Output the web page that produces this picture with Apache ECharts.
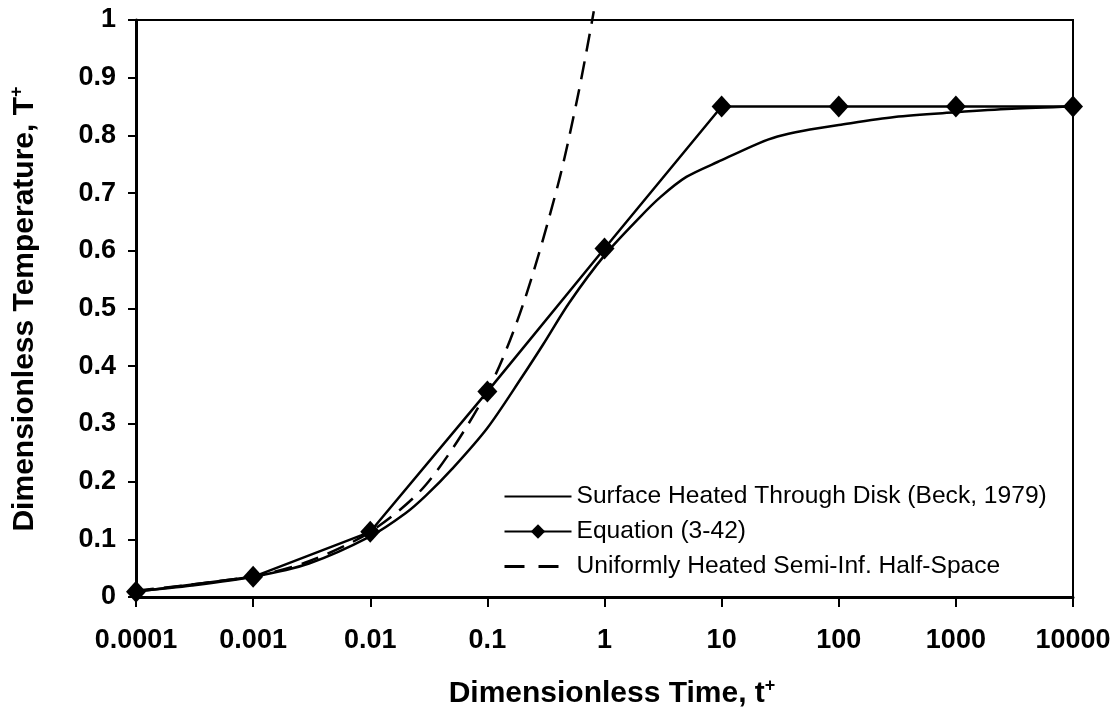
<!DOCTYPE html>
<html>
<head>
<meta charset="utf-8">
<script src="https://cdn.jsdelivr.net/npm/echarts@6/dist/echarts.min.js"></script>
<style>html,body{margin:0;padding:0;background:#fff}#c{width:1120px;height:709px}</style>
</head>
<body>
<div id="c"></div>
<script>
// ---- data ----
const xTickLabels = ['0.0001', '0.001', '0.01', '0.1', '1', '10', '100', '1000', '10000'];
const seriesNames = ['Surface Heated Through Disk (Beck, 1979)', 'Equation (3-42)', 'Uniformly Heated Semi-Inf. Half-Space'];

// Surface heated through disk (Beck, 1979) - smooth solid curve
const beckT = [0.0001, 0.0003, 0.001, 0.003, 0.01, 0.02, 0.03, 0.05, 0.1, 0.2, 0.3, 0.5, 1, 2, 3, 5, 10, 20, 30, 50, 100, 300, 1000, 3000, 10000];
const beckV = [0.010, 0.020, 0.035, 0.058, 0.105, 0.145, 0.176, 0.222, 0.293, 0.383, 0.438, 0.510, 0.592, 0.658, 0.693, 0.728, 0.757, 0.785, 0.798, 0.808, 0.818, 0.832, 0.840, 0.846, 0.850];

// Equation (3-42) - solid line with diamond markers
const eqT = [0.0001, 0.001, 0.01, 0.1, 1, 10, 100, 1000, 10000];
const eqV = [0.009, 0.035, 0.113, 0.356, 0.604, 0.850, 0.850, 0.850, 0.850];

// Uniformly heated semi-infinite half-space - dashed curve
const uniT = [0.0001, 0.001, 0.003, 0.01, 0.03, 0.1, 0.2, 0.4, 0.6, 0.81];
const uniV = [0.011, 0.036, 0.062, 0.113, 0.195, 0.357, 0.505, 0.714, 0.874, 1.015];

const pair = (xs, ys) => xs.map((x, i) => [x, ys[i]]);

const FONT = 'Liberation Sans, Arial, sans-serif';
const noSymbol = {opacity: 0, color: 'rgba(0,0,0,0)', borderWidth: 0};
const chart = echarts.init(document.getElementById('c'), null, {renderer: 'canvas'});
chart.setOption({
  backgroundColor: '#ffffff',
  animation: false,
  grid: {left: 136, right: 47, top: 20, bottom: 112, show: true, borderColor: '#000', borderWidth: 2, backgroundColor: 'transparent'},
  xAxis: {
    type: 'log', logBase: 10, min: 0.0001, max: 10000,
    axisLine: {show: true, lineStyle: {color: '#000', width: 3}},
    axisTick: {show: true, length: 10, lineStyle: {color: '#000', width: 2}},
    minorTick: {show: false},
    splitLine: {show: false},
    axisLabel: {
      color: '#000', fontFamily: FONT, fontWeight: 'bold', fontSize: 27, margin: 30,
      formatter: v => xTickLabels[Math.round(Math.log10(v)) + 4]
    }
  },
  yAxis: {
    type: 'value', min: 0, max: 1, interval: 0.1,
    axisLine: {show: true, lineStyle: {color: '#000', width: 3}},
    axisTick: {show: true, length: 8, lineStyle: {color: '#000', width: 2}},
    splitLine: {show: false},
    axisLabel: {color: '#000', fontFamily: FONT, fontWeight: 'bold', fontSize: 27, margin: 20}
  },
  legend: {
    left: 503, top: 484, orient: 'vertical', padding: 0,
    itemWidth: 67, itemHeight: 18, itemGap: 10,
    textStyle: {color: '#000', fontFamily: FONT, fontSize: 24.6},
    data: [
      {name: seriesNames[0], itemStyle: noSymbol},
      {name: seriesNames[1]},
      {name: seriesNames[2], itemStyle: noSymbol, lineStyle: {type: [20, 14], width: 3}}
    ]
  },
  graphic: [
    {
      type: 'text', x: 612, y: 694,
      style: {
        text: '{a|Dimensionless Time, t}{s|+}',
        align: 'center', verticalAlign: 'middle',
        rich: {
          a: {fontFamily: FONT, fontWeight: 'bold', fontSize: 30, fill: '#000'},
          s: {fontFamily: FONT, fontWeight: 'bold', fontSize: 18, fill: '#000', padding: [0, 0, 16, 0]}
        }
      }
    },
    {
      type: 'text', x: 25, y: 309, rotation: Math.PI / 2,
      style: {
        text: '{a|Dimensionless Temperature, T}{s|+}',
        align: 'center', verticalAlign: 'middle',
        rich: {
          a: {fontFamily: FONT, fontWeight: 'bold', fontSize: 30, fill: '#000'},
          s: {fontFamily: FONT, fontWeight: 'bold', fontSize: 18, fill: '#000', padding: [0, 0, 16, 0]}
        }
      }
    }
  ],
  series: [
    {
      name: seriesNames[0], type: 'line', data: pair(beckT, beckV),
      smooth: 0.3, symbol: 'none', showSymbol: false,
      lineStyle: {color: '#000', width: 2.5}, itemStyle: {color: '#000'}, z: 3
    },
    {
      name: seriesNames[1], type: 'line', data: pair(eqT, eqV),
      smooth: false, symbol: 'diamond', symbolSize: [20, 22], showSymbol: true,
      lineStyle: {color: '#000', width: 2.5}, itemStyle: {color: '#000'}, z: 4
    },
    {
      name: seriesNames[2], type: 'line', data: pair(uniT, uniV),
      smooth: 0.3, symbol: 'none', showSymbol: false, clip: false,
      lineStyle: {color: '#000', width: 2.5, type: [18, 10]}, itemStyle: {color: '#000'}, z: 2
    }
  ]
});
</script>
</body>
</html>
